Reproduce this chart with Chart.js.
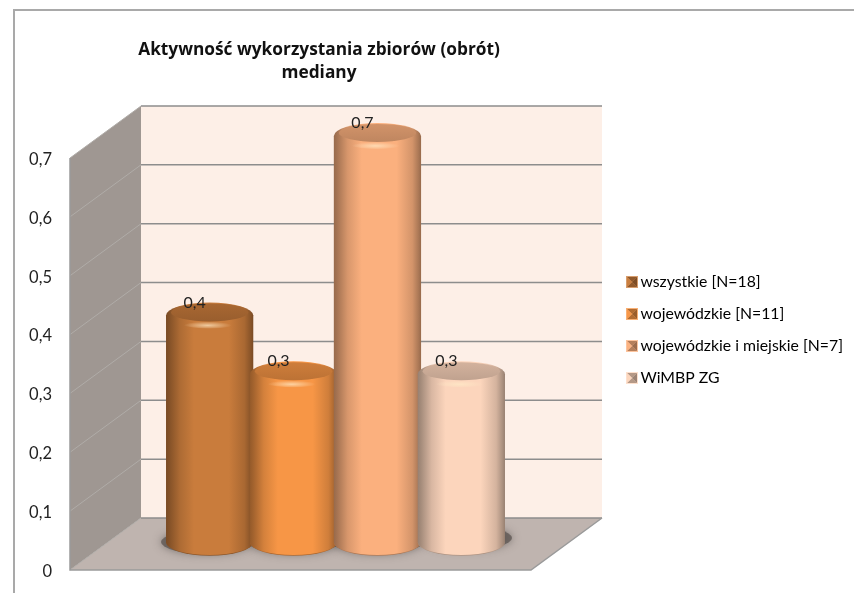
<!DOCTYPE html>
<html><head><meta charset="utf-8">
<style>html,body{margin:0;padding:0;background:#fff}canvas{display:block}</style>
<script src="https://cdn.jsdelivr.net/npm/chart.js@4"></script>
</head><body><canvas id="c" width="854" height="593"></canvas>
<script>
const titleLines = ['Aktywność wykorzystania zbiorów (obrót)', 'mediany'];
const categories = ['mediana'];
const seriesNames = ['wszystkie [N=18]', 'wojewódzkie [N=11]', 'wojewódzkie i miejskie [N=7]', 'WiMBP ZG'];
const seriesValues = [0.385, 0.285, 0.69, 0.285];
const seriesLabels = ['0,4', '0,3', '0,7', '0,3'];
const seriesColors = ['#c97c3c', '#f79646', '#fbb07e', '#fcd5bc'];
const yMax = 0.7, yStep = 0.1;

const FONT = 'Lato';
const DEPTH_X = 71, DEPTH_Y = 52;      // wall depth
const BAR_DX = 35, BAR_DY = 28;        // bars stand mid-depth
const RY = 13;

function rgb(hex){return [1,3,5].map(i=>parseInt(hex.substr(i,2),16));}
function shade(hex,f){const c=rgb(hex).map(v=>Math.min(255,Math.round(f<=1?v*f:v+(255-v)*(f-1))));return `rgb(${c[0]},${c[1]},${c[2]})`;}
function bodyGradient(ctx,x0,x1,col){
  const g=ctx.createLinearGradient(x0,0,x1,0);
  g.addColorStop(0,shade(col,0.6));g.addColorStop(0.04,shade(col,0.66));g.addColorStop(0.16,shade(col,0.86));
  g.addColorStop(0.32,shade(col,1));g.addColorStop(0.72,shade(col,1));g.addColorStop(0.9,shade(col,0.84));
  g.addColorStop(0.97,shade(col,0.68));g.addColorStop(1,shade(col,0.6));
  return g;
}
function makeIcon(col){
  const c=document.createElement('canvas');c.width=12;c.height=12;const x=c.getContext('2d');
  x.fillStyle=shade(col,1.25);x.fillRect(0,0,12,12);
  const tri=(pts,f)=>{x.fillStyle=f;x.beginPath();x.moveTo(pts[0],pts[1]);x.lineTo(pts[2],pts[3]);x.lineTo(pts[4],pts[5]);x.closePath();x.fill();};
  tri([1,1,11,1,6,6],shade(col,0.72));tri([1,11,11,11,6,6],shade(col,0.72));
  tri([1,1,1,11,6,6],shade(col,1.02));tri([11,1,11,11,6,6],shade(col,0.62));
  return c;
}
const icons = seriesColors.map(makeIcon);

const scene = {
  id:'scene',
  afterLayout(chart){
    const l=chart.legend; l.left=615.3; l.right=854; l.top=257.9; l.bottom=560;
    const t=chart.titleBlock; t.left=119; t.right=519; t.top=39; t.bottom=85;
  },
  beforeDraw(chart){
    const c=chart.ctx; c.save();
    c.strokeStyle='#a9a9a9';c.lineWidth=2;c.beginPath();c.moveTo(14,593);c.lineTo(14,10);c.lineTo(854,10);c.stroke();
    c.restore();
  },
  beforeDatasetsDraw(chart){
    const c=chart.ctx,y=chart.scales.y,a=chart.chartArea;
    const L=a.left,R=a.right,B=y.getPixelForValue(0),T=y.getPixelForValue(yMax);
    c.save();
    // back wall
    c.fillStyle='#fdefe7';c.fillRect(L+DEPTH_X,T-DEPTH_Y,R-L,B-T);
    // side wall
    c.fillStyle='#9f9792';c.beginPath();c.moveTo(L,T);c.lineTo(L+DEPTH_X,T-DEPTH_Y);c.lineTo(L+DEPTH_X,B-DEPTH_Y);c.lineTo(L,B);c.closePath();c.fill();
    // floor
    c.fillStyle='#bfb4af';c.beginPath();c.moveTo(L,B);c.lineTo(L+DEPTH_X,B-DEPTH_Y);c.lineTo(R+DEPTH_X,B-DEPTH_Y);c.lineTo(R,B);c.closePath();c.fill();
    // grid lines
    y.ticks.forEach(t=>{
      const p=y.getPixelForValue(t.value);
      c.strokeStyle='#b0aca8';c.lineWidth=1;
      c.beginPath();c.moveTo(L,p);c.lineTo(L+DEPTH_X,p-DEPTH_Y);c.stroke();
      c.strokeStyle='#8d8d8d';c.lineWidth=1.5;
      c.beginPath();c.moveTo(L+DEPTH_X,p-DEPTH_Y);c.lineTo(R+DEPTH_X,p-DEPTH_Y);c.stroke();
    });
    // edges
    c.strokeStyle='#9a9a9a';c.lineWidth=1.5;
    c.beginPath();c.moveTo(L,T);c.lineTo(L,B);c.lineTo(R,B);c.lineTo(R+DEPTH_X,B-DEPTH_Y);c.stroke();
    // soft shadows on floor
    chart.data.datasets.forEach((d,i)=>{
      const el=chart.getDatasetMeta(i).data[0];
      c.save();c.shadowColor='rgba(70,64,60,0.7)';c.shadowBlur=9;c.fillStyle='rgba(95,88,84,0.8)';
      c.beginPath();c.ellipse(el.x+BAR_DX+(i===0?-3:i===3?5:0),B-BAR_DY+(i===3?-4:0),el.width/2+2,RY-1,0,0,Math.PI*2);c.fill();c.restore();
    });
    c.restore();
    // cylinders, left to right
    chart.data.datasets.forEach((d,i)=>{
      const meta=chart.getDatasetMeta(i),el=meta.data[0],col=seriesColors[i];
      const x0=el.x-el.width/2,x1=el.x+el.width/2;
      c.save();c.translate(BAR_DX,-BAR_DY);
      const g=bodyGradient(c,x0,x1,col);
      el.options=Object.assign({},el.options,{backgroundColor:g});
      // bottom of cylinder
      c.fillStyle=shade(col,0.7);c.beginPath();c.ellipse(el.x,el.base,el.width/2,RY+0.8,0,0,Math.PI);c.fill();
      c.fillStyle=g;c.beginPath();c.ellipse(el.x,el.base,el.width/2,RY,0,0,Math.PI);c.fill();
      meta.controller.draw();
      // cap
      c.fillStyle=g;c.beginPath();c.ellipse(el.x,el.y,el.width/2,RY,0,0,Math.PI*2);c.fill();
      c.save();c.beginPath();c.ellipse(el.x,el.y,el.width/2,RY,0,0,Math.PI*2);c.clip();
      c.translate(el.x-2,el.y+RY-3);c.scale(1,0.16);
      const h=c.createRadialGradient(0,0,0,0,0,24);
      h.addColorStop(0,'rgba(255,235,200,0.7)');h.addColorStop(1,'rgba(255,235,200,0)');
      c.fillStyle=h;c.beginPath();c.arc(0,0,24,0,Math.PI*2);c.fill();c.restore();
      // top face
      const top=c.createLinearGradient(0,el.y-RY,0,el.y+6);
      top.addColorStop(0,shade(col,0.84));top.addColorStop(1,shade(col,0.76));
      c.fillStyle=top;c.beginPath();c.ellipse(el.x,el.y-3,el.width/2-5,RY-4,0,0,Math.PI*2);c.fill();
      c.restore();
    });
    // value labels
    c.save();c.fillStyle='#222';c.font=`16px ${FONT}`;c.textAlign='center';c.textBaseline='middle';
    chart.data.datasets.forEach((d,i)=>{
      const el=chart.getDatasetMeta(i).data[0];
      c.fillText(seriesLabels[i],el.x+BAR_DX-15,el.y-BAR_DY-RY);
    });
    c.restore();
    return false;
  }
};

new Chart(document.getElementById('c'),{
  type:'bar',
  data:{labels:categories,datasets:seriesNames.map((n,i)=>({label:n,data:[seriesValues[i]],backgroundColor:seriesColors[i],borderWidth:0}))},
  options:{
    responsive:false,animation:false,
    categoryPercentage:0.728,barPercentage:1.04,
    layout:{padding:{top:112,left:0,right:323,bottom:23}},
    scales:{
      x:{display:false},
      y:{min:0,max:yMax,
        grid:{display:false},border:{display:false},
        afterFit(s){s.width=70;s.paddingTop=0;s.paddingBottom=0;},
        ticks:{stepSize:yStep,padding:10,labelOffset:1.5,color:'#222',font:{family:FONT,size:16.5},
          callback:v=>{const r=Math.round(v*10)/10;return String(r).replace('.',',');}}}
    },
    plugins:{
      tooltip:{enabled:false},
      title:{display:true,text:titleLines,color:'#111',font:{family:'Open Sans',size:17.3,weight:'bold',lineHeight:'23px'},padding:0},
      legend:{position:'chartArea',align:'start',
        labels:{usePointStyle:true,pointStyleWidth:1,padding:16.2,color:'#222',font:{family:FONT,size:15.8},
          generateLabels:ch=>ch.data.datasets.map((d,i)=>({text:d.label,datasetIndex:i,pointStyle:icons[i],fillStyle:seriesColors[i],strokeStyle:seriesColors[i],lineWidth:0,hidden:false}))}}
    }
  },
  plugins:[scene]
});
</script></body></html>
